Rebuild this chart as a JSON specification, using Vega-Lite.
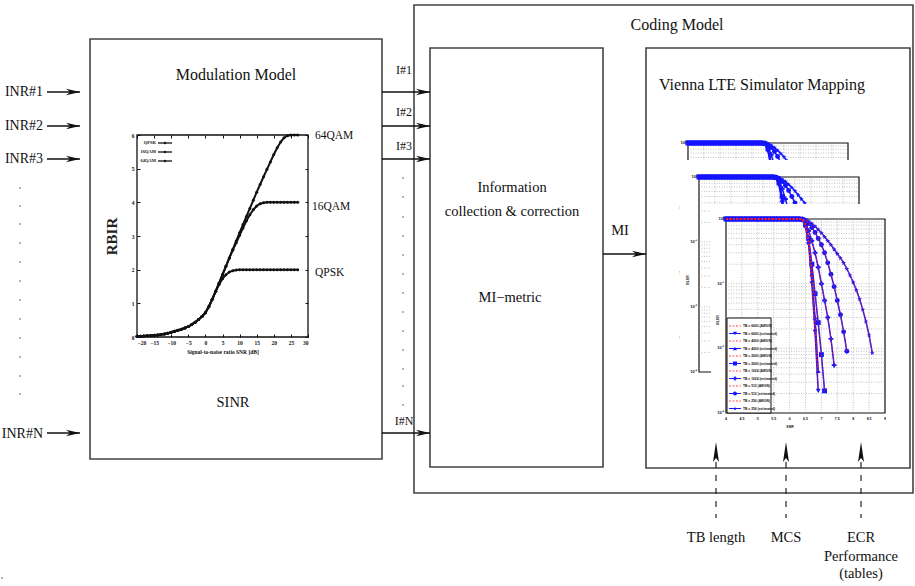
{
"$schema": "https://vega.github.io/schema/vega-lite/v6.json",
"width": 915, "height": 586, "autosize": {"type": "none"}, "padding": 0,
"background": "white",
"config": {"view": {"stroke": null}},
"resolve": {"scale": {"x": "independent", "y": "independent"}, "axis": {"x": "independent", "y": "independent"}},
"datasets": {
"boxes": [{"x":414,"x2":913,"y":5,"y2":493},{"x":90,"x2":382,"y":39,"y2":459},{"x":430,"x2":603,"y":48,"y2":467},{"x":646,"x2":910,"y":48,"y2":468}],
"arrowsR": [{"x":47,"x2":80,"y":92},{"x":47,"x2":80,"y":126},{"x":47,"x2":80,"y":159},{"x":47,"x2":80,"y":433},{"x":382,"x2":430,"y":92},{"x":382,"x2":430,"y":126},{"x":382,"x2":430,"y":159},{"x":382,"x2":430,"y":433},{"x":603,"x2":646,"y":254}],
"arrowsU": [{"x":716,"tip":442,"base":462,"end":518},{"x":786,"tip":442,"base":462,"end":518},{"x":861,"tip":442,"base":462,"end":518}],
"dots": [{"x":20,"y":188},{"x":20,"y":206},{"x":20,"y":224},{"x":20,"y":243},{"x":20,"y":262},{"x":20,"y":281},{"x":20,"y":300},{"x":20,"y":319},{"x":20,"y":338},{"x":20,"y":357},{"x":20,"y":376},{"x":20,"y":394},{"x":403,"y":178},{"x":403,"y":197},{"x":403,"y":217},{"x":403,"y":236},{"x":403,"y":255},{"x":403,"y":274},{"x":403,"y":293},{"x":403,"y":312},{"x":403,"y":331},{"x":403,"y":350},{"x":403,"y":369},{"x":403,"y":386},{"x":403,"y":405},{"x":2,"y":578}],
"t15": [{"x":236,"y":75,"t":"Modulation Model"},{"x":677,"y":25,"t":"Coding Model"},{"x":762,"y":85,"t":"Vienna LTE Simulator Mapping"}],
"t14c": [{"x":512,"y":188,"t":"Information"},{"x":512,"y":212,"t":"collection & correction"},{"x":510,"y":298,"t":"MI\u2212metric"},{"x":233,"y":403,"t":"SINR"},{"x":620,"y":231,"t":"MI"},{"x":716,"y":538,"t":"TB length"},{"x":786,"y":538,"t":"MCS"},{"x":861,"y":538,"t":"ECR"},{"x":861,"y":557,"t":"Performance"},{"x":861,"y":574,"t":"(tables)"}],
"t14r": [{"x":43,"y":92,"t":"INR#1"},{"x":43,"y":126,"t":"INR#2"},{"x":43,"y":159,"t":"INR#3"},{"x":43,"y":434,"t":"INR#N"}],
"t12c": [{"x":404,"y":70,"t":"I#1"},{"x":404,"y":112,"t":"I#2"},{"x":404,"y":146,"t":"I#3"},{"x":404,"y":421,"t":"I#N"}],
"t11l": [{"x":315,"y":136,"t":"64QAM"},{"x":312,"y":207,"t":"16QAM"},{"x":315,"y":273,"t":"QPSK"}],
"rleg": [{"x":156,"lx":158,"lx2":172,"mx":165,"y":143,"t":"QPSK"},{"x":156,"lx":158,"lx2":172,"mx":165,"y":152,"t":"16QAM"},{"x":156,"lx":158,"lx2":172,"mx":165,"y":161,"t":"64QAM"}],
"covers": [{"x":680,"x2":876,"y":160,"y2":398}],
"cover2": [{"x":711,"x2":896,"y":204,"y2":432}],
"bleg": [{"x":727,"x2":771,"y":318,"y2":413}],
"blegr": [{"y":326,"t":"TB = 6000 (AWGN)","k":"a","tb":"6000","lx":729,"lx2":741,"mx":735,"tx":743},{"y":333.5,"t":"TB = 6000 (estimated)","k":"e","tb":"6000","lx":729,"lx2":741,"mx":735,"tx":743},{"y":341,"t":"TB = 4000 (AWGN)","k":"a","tb":"4000","lx":729,"lx2":741,"mx":735,"tx":743},{"y":348.5,"t":"TB = 4000 (estimated)","k":"e","tb":"4000","lx":729,"lx2":741,"mx":735,"tx":743},{"y":356,"t":"TB = 2000 (AWGN)","k":"a","tb":"2000","lx":729,"lx2":741,"mx":735,"tx":743},{"y":363.5,"t":"TB = 2000 (estimated)","k":"e","tb":"2000","lx":729,"lx2":741,"mx":735,"tx":743},{"y":371,"t":"TB = 1024 (AWGN)","k":"a","tb":"1024","lx":729,"lx2":741,"mx":735,"tx":743},{"y":378.5,"t":"TB = 1024 (estimated)","k":"e","tb":"1024","lx":729,"lx2":741,"mx":735,"tx":743},{"y":386,"t":"TB = 512 (AWGN)","k":"a","tb":"512","lx":729,"lx2":741,"mx":735,"tx":743},{"y":393.5,"t":"TB = 512 (estimated)","k":"e","tb":"512","lx":729,"lx2":741,"mx":735,"tx":743},{"y":401,"t":"TB = 256 (AWGN)","k":"a","tb":"256","lx":729,"lx2":741,"mx":735,"tx":743},{"y":408.5,"t":"TB = 256 (estimated)","k":"e","tb":"256","lx":729,"lx2":741,"mx":735,"tx":743}],
"btitleR": [{"x":718,"y":320,"t":"BLER"},{"x":688,"y":280,"t":"BLER"}],
"btitleH": [{"x":790,"y":427,"t":"SNR"}],
"xg": [{"v":4.5},{"v":5},{"v":5.5},{"v":6},{"v":6.5},{"v":7},{"v":7.5},{"v":8},{"v":8.5}],
"yg": [{"v":0.002},{"v":0.003},{"v":0.004},{"v":0.005},{"v":0.006},{"v":0.007},{"v":0.008},{"v":0.009},{"v":0.01},{"v":0.02},{"v":0.03},{"v":0.04},{"v":0.05},{"v":0.06},{"v":0.07},{"v":0.08},{"v":0.09},{"v":0.1},{"v":0.2},{"v":0.3},{"v":0.4},{"v":0.5},{"v":0.6},{"v":0.7},{"v":0.8},{"v":0.9}],
"ylab": [{"v":1,"t":"10\u2070"},{"v":0.1,"t":"10\u207b\u00b9"},{"v":0.01,"t":"10\u207b\u00b2"},{"v":0.001,"t":"10\u207b\u00b3"}],
"xlab": [{"v":4,"t":"4"},{"v":4.5,"t":"4.5"},{"v":5,"t":"5"},{"v":5.5,"t":"5.5"},{"v":6,"t":"6"},{"v":6.5,"t":"6.5"},{"v":7,"t":"7"},{"v":7.5,"t":"7.5"},{"v":8,"t":"8"},{"v":8.5,"t":"8.5"},{"v":9,"t":"9"}],
"rbir": [
{"m":"64QAM","s":-20,"r":0.02},{"m":"64QAM","s":-19,"r":0.025},{"m":"64QAM","s":-18,"r":0.03},{"m":"64QAM","s":-17,"r":0.035},{"m":"64QAM","s":-16,"r":0.04},{"m":"64QAM","s":-15,"r":0.05},{"m":"64QAM","s":-14,"r":0.06},{"m":"64QAM","s":-13,"r":0.075},{"m":"64QAM","s":-12,"r":0.09},{"m":"64QAM","s":-11,"r":0.115},{"m":"64QAM","s":-10,"r":0.14},{"m":"64QAM","s":-9,"r":0.17},{"m":"64QAM","s":-8,"r":0.2},{"m":"64QAM","s":-7,"r":0.23},{"m":"64QAM","s":-6,"r":0.27},{"m":"64QAM","s":-5,"r":0.31},{"m":"64QAM","s":-4,"r":0.37},{"m":"64QAM","s":-3,"r":0.44},{"m":"64QAM","s":-2,"r":0.52},{"m":"64QAM","s":-1,"r":0.61},{"m":"64QAM","s":0,"r":0.72},{"m":"64QAM","s":1,"r":0.9},{"m":"64QAM","s":2,"r":1.12},{"m":"64QAM","s":3,"r":1.36},{"m":"64QAM","s":4,"r":1.6},{"m":"64QAM","s":5,"r":1.85},{"m":"64QAM","s":6,"r":2.1},{"m":"64QAM","s":7,"r":2.35},{"m":"64QAM","s":8,"r":2.6},{"m":"64QAM","s":9,"r":2.85},{"m":"64QAM","s":10,"r":3.1},{"m":"64QAM","s":11,"r":3.34},{"m":"64QAM","s":12,"r":3.58},{"m":"64QAM","s":13,"r":3.82},{"m":"64QAM","s":14,"r":4.06},{"m":"64QAM","s":15,"r":4.3},{"m":"64QAM","s":16,"r":4.53},{"m":"64QAM","s":17,"r":4.76},{"m":"64QAM","s":18,"r":4.98},{"m":"64QAM","s":19,"r":5.2},{"m":"64QAM","s":20,"r":5.42},{"m":"64QAM","s":21,"r":5.62},{"m":"64QAM","s":22,"r":5.79},{"m":"64QAM","s":23,"r":5.92},{"m":"64QAM","s":24,"r":5.98},{"m":"64QAM","s":25,"r":6},{"m":"64QAM","s":26,"r":6},{"m":"64QAM","s":27,"r":6},
{"m":"16QAM","s":-20,"r":0.02},{"m":"16QAM","s":-19,"r":0.025},{"m":"16QAM","s":-18,"r":0.03},{"m":"16QAM","s":-17,"r":0.035},{"m":"16QAM","s":-16,"r":0.04},{"m":"16QAM","s":-15,"r":0.05},{"m":"16QAM","s":-14,"r":0.06},{"m":"16QAM","s":-13,"r":0.075},{"m":"16QAM","s":-12,"r":0.09},{"m":"16QAM","s":-11,"r":0.115},{"m":"16QAM","s":-10,"r":0.14},{"m":"16QAM","s":-9,"r":0.17},{"m":"16QAM","s":-8,"r":0.2},{"m":"16QAM","s":-7,"r":0.23},{"m":"16QAM","s":-6,"r":0.27},{"m":"16QAM","s":-5,"r":0.31},{"m":"16QAM","s":-4,"r":0.37},{"m":"16QAM","s":-3,"r":0.44},{"m":"16QAM","s":-2,"r":0.52},{"m":"16QAM","s":-1,"r":0.61},{"m":"16QAM","s":0,"r":0.72},{"m":"16QAM","s":1,"r":0.9},{"m":"16QAM","s":2,"r":1.12},{"m":"16QAM","s":3,"r":1.36},{"m":"16QAM","s":4,"r":1.6},{"m":"16QAM","s":5,"r":1.85},{"m":"16QAM","s":6,"r":2.1},{"m":"16QAM","s":7,"r":2.35},{"m":"16QAM","s":8,"r":2.58},{"m":"16QAM","s":9,"r":2.8},{"m":"16QAM","s":10,"r":3.02},{"m":"16QAM","s":11,"r":3.24},{"m":"16QAM","s":12,"r":3.45},{"m":"16QAM","s":13,"r":3.63},{"m":"16QAM","s":14,"r":3.78},{"m":"16QAM","s":15,"r":3.89},{"m":"16QAM","s":16,"r":3.96},{"m":"16QAM","s":17,"r":3.99},{"m":"16QAM","s":18,"r":4},{"m":"16QAM","s":19,"r":4},{"m":"16QAM","s":20,"r":4},{"m":"16QAM","s":21,"r":4},{"m":"16QAM","s":22,"r":4},{"m":"16QAM","s":23,"r":4},{"m":"16QAM","s":24,"r":4},{"m":"16QAM","s":25,"r":4},{"m":"16QAM","s":26,"r":4},{"m":"16QAM","s":27,"r":4},
{"m":"QPSK","s":-20,"r":0.02},{"m":"QPSK","s":-19,"r":0.025},{"m":"QPSK","s":-18,"r":0.03},{"m":"QPSK","s":-17,"r":0.035},{"m":"QPSK","s":-16,"r":0.04},{"m":"QPSK","s":-15,"r":0.05},{"m":"QPSK","s":-14,"r":0.06},{"m":"QPSK","s":-13,"r":0.075},{"m":"QPSK","s":-12,"r":0.09},{"m":"QPSK","s":-11,"r":0.115},{"m":"QPSK","s":-10,"r":0.14},{"m":"QPSK","s":-9,"r":0.17},{"m":"QPSK","s":-8,"r":0.2},{"m":"QPSK","s":-7,"r":0.23},{"m":"QPSK","s":-6,"r":0.27},{"m":"QPSK","s":-5,"r":0.31},{"m":"QPSK","s":-4,"r":0.37},{"m":"QPSK","s":-3,"r":0.44},{"m":"QPSK","s":-2,"r":0.52},{"m":"QPSK","s":-1,"r":0.61},{"m":"QPSK","s":0,"r":0.72},{"m":"QPSK","s":1,"r":0.9},{"m":"QPSK","s":2,"r":1.12},{"m":"QPSK","s":3,"r":1.35},{"m":"QPSK","s":4,"r":1.56},{"m":"QPSK","s":5,"r":1.73},{"m":"QPSK","s":6,"r":1.85},{"m":"QPSK","s":7,"r":1.93},{"m":"QPSK","s":8,"r":1.97},{"m":"QPSK","s":9,"r":1.99},{"m":"QPSK","s":10,"r":2},{"m":"QPSK","s":11,"r":2},{"m":"QPSK","s":12,"r":2},{"m":"QPSK","s":13,"r":2},{"m":"QPSK","s":14,"r":2},{"m":"QPSK","s":15,"r":2},{"m":"QPSK","s":16,"r":2},{"m":"QPSK","s":17,"r":2},{"m":"QPSK","s":18,"r":2},{"m":"QPSK","s":19,"r":2},{"m":"QPSK","s":20,"r":2},{"m":"QPSK","s":21,"r":2},{"m":"QPSK","s":22,"r":2},{"m":"QPSK","s":23,"r":2},{"m":"QPSK","s":24,"r":2},{"m":"QPSK","s":25,"r":2},{"m":"QPSK","s":26,"r":2},{"m":"QPSK","s":27,"r":2}
],
"bler": [
{"tb":"6000","x":4,"b":1},{"tb":"6000","x":4.1,"b":1},{"tb":"6000","x":4.2,"b":1},{"tb":"6000","x":4.3,"b":1},{"tb":"6000","x":4.4,"b":1},{"tb":"6000","x":4.5,"b":1},{"tb":"6000","x":4.6,"b":1},{"tb":"6000","x":4.7,"b":1},{"tb":"6000","x":4.8,"b":1},{"tb":"6000","x":4.9,"b":1},{"tb":"6000","x":5,"b":1},{"tb":"6000","x":5.1,"b":1},{"tb":"6000","x":5.2,"b":1},{"tb":"6000","x":5.3,"b":1},{"tb":"6000","x":5.4,"b":1},{"tb":"6000","x":5.5,"b":1},{"tb":"6000","x":5.6,"b":1},{"tb":"6000","x":5.7,"b":1},{"tb":"6000","x":5.8,"b":1},{"tb":"6000","x":5.9,"b":1},{"tb":"6000","x":6,"b":1},{"tb":"6000","x":6.1,"b":1},{"tb":"6000","x":6.2,"b":1},{"tb":"6000","x":6.3,"b":1},{"tb":"6000","x":6.4,"b":0.97},{"tb":"6000","x":6.5,"b":0.75},{"tb":"6000","x":6.6,"b":0.4},{"tb":"6000","x":6.7,"b":0.1},{"tb":"6000","x":6.8,"b":0.018},{"tb":"6000","x":6.9,"b":0.0022},
{"tb":"4000","x":4,"b":1},{"tb":"4000","x":4.1,"b":1},{"tb":"4000","x":4.2,"b":1},{"tb":"4000","x":4.3,"b":1},{"tb":"4000","x":4.4,"b":1},{"tb":"4000","x":4.5,"b":1},{"tb":"4000","x":4.6,"b":1},{"tb":"4000","x":4.7,"b":1},{"tb":"4000","x":4.8,"b":1},{"tb":"4000","x":4.9,"b":1},{"tb":"4000","x":5,"b":1},{"tb":"4000","x":5.1,"b":1},{"tb":"4000","x":5.2,"b":1},{"tb":"4000","x":5.3,"b":1},{"tb":"4000","x":5.4,"b":1},{"tb":"4000","x":5.5,"b":1},{"tb":"4000","x":5.6,"b":1},{"tb":"4000","x":5.7,"b":1},{"tb":"4000","x":5.8,"b":1},{"tb":"4000","x":5.9,"b":1},{"tb":"4000","x":6,"b":1},{"tb":"4000","x":6.1,"b":1},{"tb":"4000","x":6.2,"b":1},{"tb":"4000","x":6.3,"b":1},{"tb":"4000","x":6.4,"b":0.98},{"tb":"4000","x":6.5,"b":0.8},{"tb":"4000","x":6.6,"b":0.45},{"tb":"4000","x":6.7,"b":0.14},{"tb":"4000","x":6.8,"b":0.03},{"tb":"4000","x":6.9,"b":0.0045},
{"tb":"2000","x":4,"b":1},{"tb":"2000","x":4.1,"b":1},{"tb":"2000","x":4.2,"b":1},{"tb":"2000","x":4.3,"b":1},{"tb":"2000","x":4.4,"b":1},{"tb":"2000","x":4.5,"b":1},{"tb":"2000","x":4.6,"b":1},{"tb":"2000","x":4.7,"b":1},{"tb":"2000","x":4.8,"b":1},{"tb":"2000","x":4.9,"b":1},{"tb":"2000","x":5,"b":1},{"tb":"2000","x":5.1,"b":1},{"tb":"2000","x":5.2,"b":1},{"tb":"2000","x":5.3,"b":1},{"tb":"2000","x":5.4,"b":1},{"tb":"2000","x":5.5,"b":1},{"tb":"2000","x":5.6,"b":1},{"tb":"2000","x":5.7,"b":1},{"tb":"2000","x":5.8,"b":1},{"tb":"2000","x":5.9,"b":1},{"tb":"2000","x":6,"b":1},{"tb":"2000","x":6.1,"b":1},{"tb":"2000","x":6.2,"b":1},{"tb":"2000","x":6.3,"b":1},{"tb":"2000","x":6.4,"b":0.98},{"tb":"2000","x":6.5,"b":0.82},{"tb":"2000","x":6.6,"b":0.5},{"tb":"2000","x":6.7,"b":0.2},{"tb":"2000","x":6.8,"b":0.07},{"tb":"2000","x":6.9,"b":0.025},{"tb":"2000","x":7,"b":0.008},{"tb":"2000","x":7.1,"b":0.0022},
{"tb":"1024","x":4,"b":1},{"tb":"1024","x":4.1,"b":1},{"tb":"1024","x":4.2,"b":1},{"tb":"1024","x":4.3,"b":1},{"tb":"1024","x":4.4,"b":1},{"tb":"1024","x":4.5,"b":1},{"tb":"1024","x":4.6,"b":1},{"tb":"1024","x":4.7,"b":1},{"tb":"1024","x":4.8,"b":1},{"tb":"1024","x":4.9,"b":1},{"tb":"1024","x":5,"b":1},{"tb":"1024","x":5.1,"b":1},{"tb":"1024","x":5.2,"b":1},{"tb":"1024","x":5.3,"b":1},{"tb":"1024","x":5.4,"b":1},{"tb":"1024","x":5.5,"b":1},{"tb":"1024","x":5.6,"b":1},{"tb":"1024","x":5.7,"b":1},{"tb":"1024","x":5.8,"b":1},{"tb":"1024","x":5.9,"b":1},{"tb":"1024","x":6,"b":1},{"tb":"1024","x":6.1,"b":1},{"tb":"1024","x":6.2,"b":1},{"tb":"1024","x":6.3,"b":1},{"tb":"1024","x":6.4,"b":0.99},{"tb":"1024","x":6.5,"b":0.88},{"tb":"1024","x":6.6,"b":0.66},{"tb":"1024","x":6.7,"b":0.46},{"tb":"1024","x":6.8,"b":0.3},{"tb":"1024","x":6.9,"b":0.18},{"tb":"1024","x":7,"b":0.1},{"tb":"1024","x":7.1,"b":0.055},{"tb":"1024","x":7.2,"b":0.03},{"tb":"1024","x":7.3,"b":0.014},{"tb":"1024","x":7.4,"b":0.0055},
{"tb":"512","x":4,"b":1},{"tb":"512","x":4.1,"b":1},{"tb":"512","x":4.2,"b":1},{"tb":"512","x":4.3,"b":1},{"tb":"512","x":4.4,"b":1},{"tb":"512","x":4.5,"b":1},{"tb":"512","x":4.6,"b":1},{"tb":"512","x":4.7,"b":1},{"tb":"512","x":4.8,"b":1},{"tb":"512","x":4.9,"b":1},{"tb":"512","x":5,"b":1},{"tb":"512","x":5.1,"b":1},{"tb":"512","x":5.2,"b":1},{"tb":"512","x":5.3,"b":1},{"tb":"512","x":5.4,"b":1},{"tb":"512","x":5.5,"b":1},{"tb":"512","x":5.6,"b":1},{"tb":"512","x":5.7,"b":1},{"tb":"512","x":5.8,"b":1},{"tb":"512","x":5.9,"b":1},{"tb":"512","x":6,"b":1},{"tb":"512","x":6.1,"b":1},{"tb":"512","x":6.2,"b":1},{"tb":"512","x":6.3,"b":1},{"tb":"512","x":6.4,"b":0.99},{"tb":"512","x":6.5,"b":0.95},{"tb":"512","x":6.6,"b":0.85},{"tb":"512","x":6.7,"b":0.74},{"tb":"512","x":6.8,"b":0.62},{"tb":"512","x":6.9,"b":0.5},{"tb":"512","x":7,"b":0.4},{"tb":"512","x":7.1,"b":0.3},{"tb":"512","x":7.2,"b":0.21},{"tb":"512","x":7.3,"b":0.14},{"tb":"512","x":7.4,"b":0.09},{"tb":"512","x":7.5,"b":0.055},{"tb":"512","x":7.6,"b":0.033},{"tb":"512","x":7.7,"b":0.018},{"tb":"512","x":7.8,"b":0.009},
{"tb":"256","x":4,"b":1},{"tb":"256","x":4.1,"b":1},{"tb":"256","x":4.2,"b":1},{"tb":"256","x":4.3,"b":1},{"tb":"256","x":4.4,"b":1},{"tb":"256","x":4.5,"b":1},{"tb":"256","x":4.6,"b":1},{"tb":"256","x":4.7,"b":1},{"tb":"256","x":4.8,"b":1},{"tb":"256","x":4.9,"b":1},{"tb":"256","x":5,"b":1},{"tb":"256","x":5.1,"b":1},{"tb":"256","x":5.2,"b":1},{"tb":"256","x":5.3,"b":1},{"tb":"256","x":5.4,"b":1},{"tb":"256","x":5.5,"b":1},{"tb":"256","x":5.6,"b":1},{"tb":"256","x":5.7,"b":1},{"tb":"256","x":5.8,"b":1},{"tb":"256","x":5.9,"b":1},{"tb":"256","x":6,"b":1},{"tb":"256","x":6.1,"b":1},{"tb":"256","x":6.2,"b":1},{"tb":"256","x":6.3,"b":1},{"tb":"256","x":6.4,"b":1},{"tb":"256","x":6.5,"b":0.97},{"tb":"256","x":6.6,"b":0.92},{"tb":"256","x":6.7,"b":0.85},{"tb":"256","x":6.8,"b":0.77},{"tb":"256","x":6.9,"b":0.69},{"tb":"256","x":7,"b":0.61},{"tb":"256","x":7.1,"b":0.53},{"tb":"256","x":7.2,"b":0.46},{"tb":"256","x":7.3,"b":0.4},{"tb":"256","x":7.4,"b":0.34},{"tb":"256","x":7.5,"b":0.29},{"tb":"256","x":7.6,"b":0.25},{"tb":"256","x":7.7,"b":0.21},{"tb":"256","x":7.8,"b":0.17},{"tb":"256","x":7.9,"b":0.135},{"tb":"256","x":8,"b":0.105},{"tb":"256","x":8.1,"b":0.08},{"tb":"256","x":8.2,"b":0.058},{"tb":"256","x":8.3,"b":0.04},{"tb":"256","x":8.4,"b":0.026},{"tb":"256","x":8.5,"b":0.016},{"tb":"256","x":8.6,"b":0.0085}
]
},
"layer": [
{"data":{"name":"boxes"},"mark":{"type":"rect","fillOpacity":0,"stroke":"#444","strokeWidth":1.6},"encoding":{"x":{"field":"x","type":"quantitative","scale":{"domain":[0,915],"range":[0,915],"nice":false,"zero":false},"axis":null},"x2":{"field":"x2"},"y":{"field":"y","type":"quantitative","scale":{"domain":[0,586],"range":[0,586],"nice":false,"zero":false},"axis":null},"y2":{"field":"y2"}}},
{"data":{"name":"arrowsR"},"mark":{"type":"rule","color":"#111","strokeWidth":1.4},"encoding":{"x":{"field":"x","type":"quantitative","scale":{"domain":[0,915],"range":[0,915],"nice":false,"zero":false},"axis":null},"x2":{"field":"x2"},"y":{"field":"y","type":"quantitative","scale":{"domain":[0,586],"range":[0,586],"nice":false,"zero":false},"axis":null}}},
{"data":{"name":"arrowsR"},"mark":{"type":"point","shape":"M0,0L-2,-0.45L-1.4,0L-2,0.45Z","size":196,"filled":true,"color":"#111","opacity":1},"encoding":{"x":{"field":"x2","type":"quantitative","scale":{"domain":[0,915],"range":[0,915],"nice":false,"zero":false},"axis":null},"y":{"field":"y","type":"quantitative","scale":{"domain":[0,586],"range":[0,586],"nice":false,"zero":false},"axis":null}}},
{"data":{"name":"arrowsU"},"mark":{"type":"rule","color":"#222","strokeWidth":1.2,"strokeDash":[6,7]},"encoding":{"x":{"field":"x","type":"quantitative","scale":{"domain":[0,915],"range":[0,915],"nice":false,"zero":false},"axis":null},"y":{"field":"base","type":"quantitative","scale":{"domain":[0,586],"range":[0,586],"nice":false,"zero":false},"axis":null},"y2":{"field":"end"}}},
{"data":{"name":"arrowsU"},"mark":{"type":"point","shape":"M0,0L-0.3,2L0,1.6L0.3,2Z","size":400,"filled":true,"color":"#111","opacity":1},"encoding":{"x":{"field":"x","type":"quantitative","scale":{"domain":[0,915],"range":[0,915],"nice":false,"zero":false},"axis":null},"y":{"field":"tip","type":"quantitative","scale":{"domain":[0,586],"range":[0,586],"nice":false,"zero":false},"axis":null}}},
{"data":{"name":"dots"},"mark":{"type":"circle","size":2,"color":"#333","opacity":1},"encoding":{"x":{"field":"x","type":"quantitative","scale":{"domain":[0,915],"range":[0,915],"nice":false,"zero":false},"axis":null},"y":{"field":"y","type":"quantitative","scale":{"domain":[0,586],"range":[0,586],"nice":false,"zero":false},"axis":null}}},
{"data":{"name":"t15"},"mark":{"type":"text","font":"Liberation Serif","fontSize":16,"align":"center","baseline":"middle","color":"#111"},"encoding":{"x":{"field":"x","type":"quantitative","scale":{"domain":[0,915],"range":[0,915],"nice":false,"zero":false},"axis":null},"y":{"field":"y","type":"quantitative","scale":{"domain":[0,586],"range":[0,586],"nice":false,"zero":false},"axis":null},"text":{"field":"t"}}},
{"data":{"name":"t14c"},"mark":{"type":"text","font":"Liberation Serif","fontSize":14.5,"align":"center","baseline":"middle","color":"#111"},"encoding":{"x":{"field":"x","type":"quantitative","scale":{"domain":[0,915],"range":[0,915],"nice":false,"zero":false},"axis":null},"y":{"field":"y","type":"quantitative","scale":{"domain":[0,586],"range":[0,586],"nice":false,"zero":false},"axis":null},"text":{"field":"t"}}},
{"data":{"name":"t14r"},"mark":{"type":"text","font":"Liberation Serif","fontSize":14,"align":"right","baseline":"middle","color":"#111"},"encoding":{"x":{"field":"x","type":"quantitative","scale":{"domain":[0,915],"range":[0,915],"nice":false,"zero":false},"axis":null},"y":{"field":"y","type":"quantitative","scale":{"domain":[0,586],"range":[0,586],"nice":false,"zero":false},"axis":null},"text":{"field":"t"}}},
{"data":{"name":"t12c"},"mark":{"type":"text","font":"Liberation Serif","fontSize":12,"align":"center","baseline":"middle","color":"#111"},"encoding":{"x":{"field":"x","type":"quantitative","scale":{"domain":[0,915],"range":[0,915],"nice":false,"zero":false},"axis":null},"y":{"field":"y","type":"quantitative","scale":{"domain":[0,586],"range":[0,586],"nice":false,"zero":false},"axis":null},"text":{"field":"t"}}},
{"data":{"name":"t11l"},"mark":{"type":"text","font":"Liberation Serif","fontSize":11.5,"align":"left","baseline":"middle","color":"#111"},"encoding":{"x":{"field":"x","type":"quantitative","scale":{"domain":[0,915],"range":[0,915],"nice":false,"zero":false},"axis":null},"y":{"field":"y","type":"quantitative","scale":{"domain":[0,586],"range":[0,586],"nice":false,"zero":false},"axis":null},"text":{"field":"t"}}},
{"data":{"values":[{}]},"mark":{"type":"rect","fillOpacity":0,"stroke":"#111","strokeWidth":1.3},"encoding":{"x":{"datum":-20,"type":"quantitative","scale":{"domain":[-20,30],"range":[137,308],"nice":false,"zero":false},"axis":{"orient":"top","offset":-135,"labels":false,"domain":false,"tickSize":-3,"tickColor":"#111","values":[-20,-15,-10,-5,0,5,10,15,20,25,30],"title":null}},"x2":{"datum":30},"y":{"datum":0,"type":"quantitative","scale":{"domain":[0,6],"range":[337,135],"nice":false,"zero":false},"axis":{"orient":"right","offset":-607,"labels":false,"domain":false,"tickSize":-3,"tickColor":"#111","values":[0,1,2,3,4,5,6],"title":null}},"y2":{"datum":6}}},
{"data":{"name":"rbir"},"mark":{"type":"line","color":"#111","strokeWidth":2,"point":{"filled":true,"size":9,"color":"#111"}},"encoding":{"x":{"field":"s","type":"quantitative","scale":{"domain":[-20,30],"range":[137,308],"nice":false,"zero":false},"axis":{"orient":"bottom","offset":-249,"domain":false,"tickSize":-3,"tickColor":"#111","values":[-20,-15,-10,-5,0,5,10,15,20,25,30],"labelFont":"Liberation Serif","labelFontWeight":"bold","labelFontSize":5.5,"labelColor":"#111","labelPadding":6,"title":"Signal-to-noise ratio SNR [dB]","titleFont":"Liberation Serif","titleFontSize":5.5,"titleFontWeight":"bold","titleColor":"#111","titlePadding":4}},"y":{"field":"r","type":"quantitative","scale":{"domain":[0,6],"range":[337,135],"nice":false,"zero":false},"axis":{"orient":"left","offset":-137,"domain":false,"tickSize":-3,"tickColor":"#111","values":[0,1,2,3,4,5,6],"labelFont":"Liberation Serif","labelFontWeight":"bold","labelFontSize":5.5,"labelColor":"#111","labelPadding":6,"title":"RBIR","titleFont":"Liberation Serif","titleFontSize":15,"titleFontWeight":"bold","titleColor":"#222","titlePadding":12}},"detail":{"field":"m"}}},
{"data":{"name":"rleg"},"mark":{"type":"text","font":"Liberation Serif","fontSize":4.5,"fontWeight":"bold","align":"right","baseline":"middle","color":"#111"},"encoding":{"x":{"field":"x","type":"quantitative","scale":{"domain":[0,915],"range":[0,915],"nice":false,"zero":false},"axis":null},"y":{"field":"y","type":"quantitative","scale":{"domain":[0,586],"range":[0,586],"nice":false,"zero":false},"axis":null},"text":{"field":"t"}}},
{"data":{"name":"rleg"},"mark":{"type":"rule","color":"#111","strokeWidth":1.3},"encoding":{"x":{"field":"lx","type":"quantitative","scale":{"domain":[0,915],"range":[0,915],"nice":false,"zero":false},"axis":null},"x2":{"field":"lx2"},"y":{"field":"y","type":"quantitative","scale":{"domain":[0,586],"range":[0,586],"nice":false,"zero":false},"axis":null}}},
{"data":{"name":"rleg"},"mark":{"type":"point","shape":"diamond","filled":true,"size":10,"color":"#111","opacity":1},"encoding":{"x":{"field":"mx","type":"quantitative","scale":{"domain":[0,915],"range":[0,915],"nice":false,"zero":false},"axis":null},"y":{"field":"y","type":"quantitative","scale":{"domain":[0,586],"range":[0,586],"nice":false,"zero":false},"axis":null}}},

{"data":{"values":[{}]},"mark":{"type":"rect","fill":"white","stroke":"#111","strokeWidth":1.2},"encoding":{"x":{"datum":4,"type":"quantitative","scale":{"domain":[4,9],"range":[688,848],"nice":false,"zero":false},"axis":null},"x2":{"datum":9},"y":{"datum":0.001,"type":"quantitative","scale":{"type":"log","domain":[0.001,1],"range":[338,143],"nice":false},"axis":null},"y2":{"datum":1}}},
{"data":{"name":"xg"},"mark":{"type":"rule","color":"#999","strokeWidth":0.6,"strokeDash":[1,1.5]},"encoding":{"x":{"field":"v","type":"quantitative","scale":{"domain":[4,9],"range":[688,848],"nice":false,"zero":false},"axis":null},"y":{"datum":0.001,"type":"quantitative","scale":{"type":"log","domain":[0.001,1],"range":[338,143],"nice":false},"axis":null},"y2":{"datum":1}}},
{"data":{"name":"yg"},"mark":{"type":"rule","color":"#999","strokeWidth":0.6,"strokeDash":[1,1.5]},"encoding":{"y":{"field":"v","type":"quantitative","scale":{"type":"log","domain":[0.001,1],"range":[338,143],"nice":false},"axis":null},"x":{"datum":4,"type":"quantitative","scale":{"domain":[4,9],"range":[688,848],"nice":false,"zero":false},"axis":null},"x2":{"datum":9}}},
{"data":{"name":"bler"},"mark":{"type":"line","color":"#1414ff","strokeWidth":1.5},"encoding":{"x":{"field":"x","type":"quantitative","scale":{"domain":[4,9],"range":[688,848],"nice":false,"zero":false},"axis":null},"y":{"field":"b","type":"quantitative","scale":{"type":"log","domain":[0.001,1],"range":[338,143],"nice":false},"axis":null},"detail":{"field":"tb"}}},
{"data":{"name":"bler"},"mark":{"type":"point","filled":true,"size":24,"color":"#1414ff","opacity":1},"encoding":{"x":{"field":"x","type":"quantitative","scale":{"domain":[4,9],"range":[688,848],"nice":false,"zero":false},"axis":null},"y":{"field":"b","type":"quantitative","scale":{"type":"log","domain":[0.001,1],"range":[338,143],"nice":false},"axis":null},"shape":{"field":"tb","type":"nominal","scale":{"domain":["6000","4000","2000","1024","512","256"],"range":["triangle-down","triangle-up","square","cross","circle","M0,-1L0.25,-0.3L1,-0.3L0.4,0.15L0.6,0.9L0,0.45L-0.6,0.9L-0.4,0.15L-1,-0.3L-0.25,-0.3Z"]},"legend":null}}},
{"data":{"name":"ylab"},"mark":{"type":"text","font":"Liberation Sans","fontSize":4,"fontWeight":"bold","align":"right","baseline":"middle","dx":-2,"color":"#111"},"encoding":{"x":{"datum":4,"type":"quantitative","scale":{"domain":[4,9],"range":[688,848],"nice":false,"zero":false},"axis":null},"y":{"field":"v","type":"quantitative","scale":{"type":"log","domain":[0.001,1],"range":[338,143],"nice":false},"axis":null},"text":{"field":"t"}}},

{"data":{"name":"covers"},"mark":{"type":"rect","fill":"white"},"encoding":{"x":{"field":"x","type":"quantitative","scale":{"domain":[0,915],"range":[0,915],"nice":false,"zero":false},"axis":null},"x2":{"field":"x2"},"y":{"field":"y","type":"quantitative","scale":{"domain":[0,586],"range":[0,586],"nice":false,"zero":false},"axis":null},"y2":{"field":"y2"}}},

{"data":{"values":[{}]},"mark":{"type":"rect","fill":"white","stroke":"#111","strokeWidth":1.2},"encoding":{"x":{"datum":4,"type":"quantitative","scale":{"domain":[4,9],"range":[699,859],"nice":false,"zero":false},"axis":null},"x2":{"datum":9},"y":{"datum":0.001,"type":"quantitative","scale":{"type":"log","domain":[0.001,1],"range":[372,177],"nice":false},"axis":null},"y2":{"datum":1}}},
{"data":{"name":"xg"},"mark":{"type":"rule","color":"#999","strokeWidth":0.6,"strokeDash":[1,1.5]},"encoding":{"x":{"field":"v","type":"quantitative","scale":{"domain":[4,9],"range":[699,859],"nice":false,"zero":false},"axis":null},"y":{"datum":0.001,"type":"quantitative","scale":{"type":"log","domain":[0.001,1],"range":[372,177],"nice":false},"axis":null},"y2":{"datum":1}}},
{"data":{"name":"yg"},"mark":{"type":"rule","color":"#999","strokeWidth":0.6,"strokeDash":[1,1.5]},"encoding":{"y":{"field":"v","type":"quantitative","scale":{"type":"log","domain":[0.001,1],"range":[372,177],"nice":false},"axis":null},"x":{"datum":4,"type":"quantitative","scale":{"domain":[4,9],"range":[699,859],"nice":false,"zero":false},"axis":null},"x2":{"datum":9}}},
{"data":{"name":"bler"},"mark":{"type":"line","color":"#1414ff","strokeWidth":1.5},"encoding":{"x":{"field":"x","type":"quantitative","scale":{"domain":[4,9],"range":[699,859],"nice":false,"zero":false},"axis":null},"y":{"field":"b","type":"quantitative","scale":{"type":"log","domain":[0.001,1],"range":[372,177],"nice":false},"axis":null},"detail":{"field":"tb"}}},
{"data":{"name":"bler"},"mark":{"type":"point","filled":true,"size":24,"color":"#1414ff","opacity":1},"encoding":{"x":{"field":"x","type":"quantitative","scale":{"domain":[4,9],"range":[699,859],"nice":false,"zero":false},"axis":null},"y":{"field":"b","type":"quantitative","scale":{"type":"log","domain":[0.001,1],"range":[372,177],"nice":false},"axis":null},"shape":{"field":"tb","type":"nominal","scale":{"domain":["6000","4000","2000","1024","512","256"],"range":["triangle-down","triangle-up","square","cross","circle","M0,-1L0.25,-0.3L1,-0.3L0.4,0.15L0.6,0.9L0,0.45L-0.6,0.9L-0.4,0.15L-1,-0.3L-0.25,-0.3Z"]},"legend":null}}},
{"data":{"name":"ylab"},"mark":{"type":"text","font":"Liberation Sans","fontSize":4,"fontWeight":"bold","align":"right","baseline":"middle","dx":-2,"color":"#111"},"encoding":{"x":{"datum":4,"type":"quantitative","scale":{"domain":[4,9],"range":[699,859],"nice":false,"zero":false},"axis":null},"y":{"field":"v","type":"quantitative","scale":{"type":"log","domain":[0.001,1],"range":[372,177],"nice":false},"axis":null},"text":{"field":"t"}}},

{"data":{"name":"cover2"},"mark":{"type":"rect","fill":"white"},"encoding":{"x":{"field":"x","type":"quantitative","scale":{"domain":[0,915],"range":[0,915],"nice":false,"zero":false},"axis":null},"x2":{"field":"x2"},"y":{"field":"y","type":"quantitative","scale":{"domain":[0,586],"range":[0,586],"nice":false,"zero":false},"axis":null},"y2":{"field":"y2"}}},

{"data":{"values":[{}]},"mark":{"type":"rect","fill":"white","stroke":"#111","strokeWidth":1.2},"encoding":{"x":{"datum":4,"type":"quantitative","scale":{"domain":[4,9],"range":[726,885],"nice":false,"zero":false},"axis":null},"x2":{"datum":9},"y":{"datum":0.001,"type":"quantitative","scale":{"type":"log","domain":[0.001,1],"range":[413,219],"nice":false},"axis":null},"y2":{"datum":1}}},
{"data":{"name":"xg"},"mark":{"type":"rule","color":"#999","strokeWidth":0.6,"strokeDash":[1,1.5]},"encoding":{"x":{"field":"v","type":"quantitative","scale":{"domain":[4,9],"range":[726,885],"nice":false,"zero":false},"axis":null},"y":{"datum":0.001,"type":"quantitative","scale":{"type":"log","domain":[0.001,1],"range":[413,219],"nice":false},"axis":null},"y2":{"datum":1}}},
{"data":{"name":"yg"},"mark":{"type":"rule","color":"#999","strokeWidth":0.6,"strokeDash":[1,1.5]},"encoding":{"y":{"field":"v","type":"quantitative","scale":{"type":"log","domain":[0.001,1],"range":[413,219],"nice":false},"axis":null},"x":{"datum":4,"type":"quantitative","scale":{"domain":[4,9],"range":[726,885],"nice":false,"zero":false},"axis":null},"x2":{"datum":9}}},
{"data":{"name":"bler"},"mark":{"type":"line","color":"#1414ff","strokeWidth":1.5},"encoding":{"x":{"field":"x","type":"quantitative","scale":{"domain":[4,9],"range":[726,885],"nice":false,"zero":false},"axis":null},"y":{"field":"b","type":"quantitative","scale":{"type":"log","domain":[0.001,1],"range":[413,219],"nice":false},"axis":null},"detail":{"field":"tb"}}},
{"data":{"name":"bler"},"mark":{"type":"point","filled":true,"size":24,"color":"#1414ff","opacity":1},"encoding":{"x":{"field":"x","type":"quantitative","scale":{"domain":[4,9],"range":[726,885],"nice":false,"zero":false},"axis":null},"y":{"field":"b","type":"quantitative","scale":{"type":"log","domain":[0.001,1],"range":[413,219],"nice":false},"axis":null},"shape":{"field":"tb","type":"nominal","scale":{"domain":["6000","4000","2000","1024","512","256"],"range":["triangle-down","triangle-up","square","cross","circle","M0,-1L0.25,-0.3L1,-0.3L0.4,0.15L0.6,0.9L0,0.45L-0.6,0.9L-0.4,0.15L-1,-0.3L-0.25,-0.3Z"]},"legend":null}}},
{"data":{"name":"bler"},"mark":{"type":"line","color":"#ff2020","strokeWidth":0.8,"strokeDash":[2,1.5]},"encoding":{"x":{"field":"x","type":"quantitative","scale":{"domain":[4,9],"range":[726,885],"nice":false,"zero":false},"axis":null},"y":{"field":"b","type":"quantitative","scale":{"type":"log","domain":[0.001,1],"range":[413,219],"nice":false},"axis":null},"detail":{"field":"tb"}}},
{"data":{"name":"ylab"},"mark":{"type":"text","font":"Liberation Sans","fontSize":4,"fontWeight":"bold","align":"right","baseline":"middle","dx":-2,"color":"#111"},"encoding":{"x":{"datum":4,"type":"quantitative","scale":{"domain":[4,9],"range":[726,885],"nice":false,"zero":false},"axis":null},"y":{"field":"v","type":"quantitative","scale":{"type":"log","domain":[0.001,1],"range":[413,219],"nice":false},"axis":null},"text":{"field":"t"}}},
{"data":{"name":"xlab"},"mark":{"type":"text","font":"Liberation Sans","fontSize":3.5,"fontWeight":"bold","align":"center","baseline":"top","dy":4,"color":"#111"},"encoding":{"x":{"field":"v","type":"quantitative","scale":{"domain":[4,9],"range":[726,885],"nice":false,"zero":false},"axis":null},"y":{"datum":0.001,"type":"quantitative","scale":{"type":"log","domain":[0.001,1],"range":[413,219],"nice":false},"axis":null},"text":{"field":"t"}}},
{"data":{"name":"btitleR"},"mark":{"type":"text","font":"Liberation Sans","fontSize":3.5,"fontWeight":"bold","angle":270,"align":"center","baseline":"middle","color":"#111"},"encoding":{"x":{"field":"x","type":"quantitative","scale":{"domain":[0,915],"range":[0,915],"nice":false,"zero":false},"axis":null},"y":{"field":"y","type":"quantitative","scale":{"domain":[0,586],"range":[0,586],"nice":false,"zero":false},"axis":null},"text":{"field":"t"}}},
{"data":{"name":"btitleH"},"mark":{"type":"text","font":"Liberation Sans","fontSize":3.5,"fontWeight":"bold","align":"center","baseline":"middle","color":"#111"},"encoding":{"x":{"field":"x","type":"quantitative","scale":{"domain":[0,915],"range":[0,915],"nice":false,"zero":false},"axis":null},"y":{"field":"y","type":"quantitative","scale":{"domain":[0,586],"range":[0,586],"nice":false,"zero":false},"axis":null},"text":{"field":"t"}}},
{"data":{"name":"bleg"},"mark":{"type":"rect","fill":"white","stroke":"#111","strokeWidth":1},"encoding":{"x":{"field":"x","type":"quantitative","scale":{"domain":[0,915],"range":[0,915],"nice":false,"zero":false},"axis":null},"x2":{"field":"x2"},"y":{"field":"y","type":"quantitative","scale":{"domain":[0,586],"range":[0,586],"nice":false,"zero":false},"axis":null},"y2":{"field":"y2"}}},
{"data":{"name":"blegr"},"transform":[{"filter":"datum.k == 'a'"}],"mark":{"type":"rule","color":"#ff2020","strokeWidth":0.8,"strokeDash":[2,1.5]},"encoding":{"x":{"field":"lx","type":"quantitative","scale":{"domain":[0,915],"range":[0,915],"nice":false,"zero":false},"axis":null},"x2":{"field":"lx2"},"y":{"field":"y","type":"quantitative","scale":{"domain":[0,586],"range":[0,586],"nice":false,"zero":false},"axis":null}}},
{"data":{"name":"blegr"},"transform":[{"filter":"datum.k == 'e'"}],"mark":{"type":"rule","color":"#1414ff","strokeWidth":1},"encoding":{"x":{"field":"lx","type":"quantitative","scale":{"domain":[0,915],"range":[0,915],"nice":false,"zero":false},"axis":null},"x2":{"field":"lx2"},"y":{"field":"y","type":"quantitative","scale":{"domain":[0,586],"range":[0,586],"nice":false,"zero":false},"axis":null}}},
{"data":{"name":"blegr"},"transform":[{"filter":"datum.k == 'e'"}],"mark":{"type":"point","filled":true,"size":16,"color":"#1414ff","opacity":1},"encoding":{"x":{"field":"mx","type":"quantitative","scale":{"domain":[0,915],"range":[0,915],"nice":false,"zero":false},"axis":null},"y":{"field":"y","type":"quantitative","scale":{"domain":[0,586],"range":[0,586],"nice":false,"zero":false},"axis":null},"shape":{"field":"tb","type":"nominal","scale":{"domain":["6000","4000","2000","1024","512","256"],"range":["triangle-down","triangle-up","square","cross","circle","M0,-1L0.25,-0.3L1,-0.3L0.4,0.15L0.6,0.9L0,0.45L-0.6,0.9L-0.4,0.15L-1,-0.3L-0.25,-0.3Z"]},"legend":null}}},
{"data":{"name":"blegr"},"mark":{"type":"text","font":"Liberation Sans","fontSize":3.3,"fontWeight":"bold","align":"left","baseline":"middle","color":"#111"},"encoding":{"x":{"field":"tx","type":"quantitative","scale":{"domain":[0,915],"range":[0,915],"nice":false,"zero":false},"axis":null},"y":{"field":"y","type":"quantitative","scale":{"domain":[0,586],"range":[0,586],"nice":false,"zero":false},"axis":null},"text":{"field":"t"}}}
]
}
